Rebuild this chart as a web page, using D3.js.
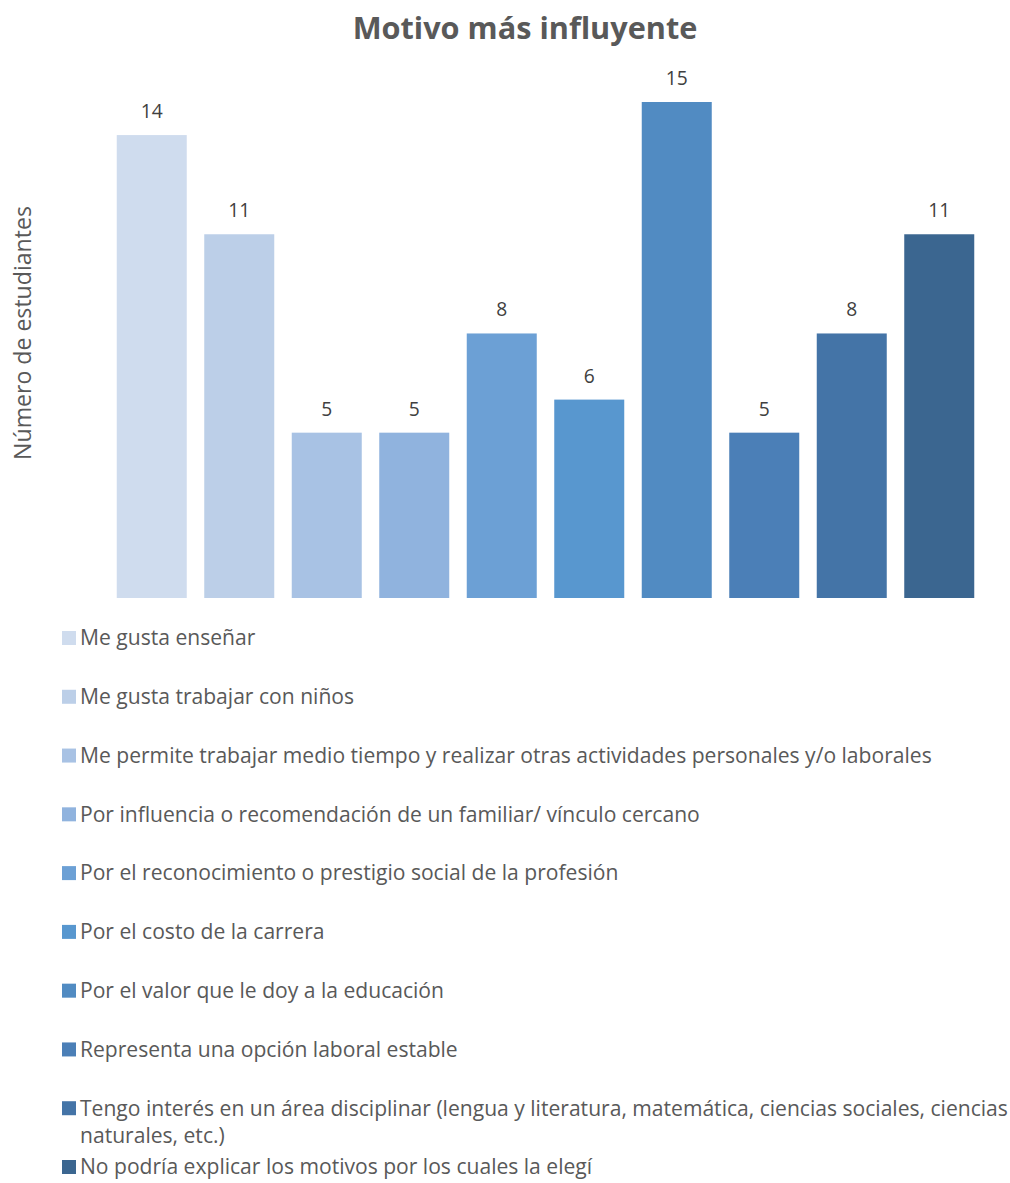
<!DOCTYPE html>
<html><head><meta charset="utf-8">
<script src="https://cdn.jsdelivr.net/npm/d3@7"></script>
<style>body{margin:0;background:#fff}svg{display:block}</style>
</head><body>
<svg id="c" width="1010" height="1183"></svg>
<script>
const categories = [
  "Me gusta enseñar",
  "Me gusta trabajar con niños",
  "Me permite trabajar medio tiempo y realizar otras actividades personales y/o laborales",
  "Por influencia o recomendación de un familiar/ vínculo cercano",
  "Por el reconocimiento o prestigio social de la profesión",
  "Por el costo de la carrera",
  "Por el valor que le doy a la educación",
  "Representa una opción laboral estable",
  "Tengo interés en un área disciplinar (lengua y literatura, matemática, ciencias sociales, ciencias naturales, etc.)",
  "No podría explicar los motivos por los cuales la elegí"
];
const values = [14, 11, 5, 5, 8, 6, 15, 5, 8, 11];
const colors = ["#cfdcee","#bccfe8","#a8c2e4","#90b3de","#6ca0d5","#5897cf","#518bc2","#4b7fb7","#4474a7","#3b6690"];
const title = "Motivo más influyente";
const yTitle = "Número de estudiantes";

const svg = d3.select("#c");
const font = "'Open Sans', sans-serif";
const grey = "#595959";

function fitSize(str, weight, target) {
  const t = svg.append("text").attr("font-family", font).attr("font-weight", weight).attr("font-size", 20).text(str);
  const w = t.node().getComputedTextLength();
  t.remove();
  return 20 * target / w;
}

const x = d3.scaleBand().domain(d3.range(categories.length)).range([108, 983]).paddingInner(0.2).paddingOuter(0.1);
const y = d3.scaleLinear().domain([0, 15]).range([598, 102]);

svg.append("text").attr("x", 525).attr("y", 39).attr("text-anchor", "middle")
  .attr("font-family", font).attr("font-weight", "bold").attr("font-size", fitSize(title, "bold", 345))
  .attr("fill", grey).text(title);

svg.append("text").attr("transform", "translate(31,333) rotate(-90)").attr("text-anchor", "middle")
  .attr("font-family", font).attr("font-size", fitSize(yTitle, "normal", 254)).attr("fill", grey).text(yTitle);

const lblSize = fitSize("14", "normal", 22);
svg.selectAll("rect.bar").data(values).join("rect").attr("class", "bar")
  .attr("x", (d, i) => x(i)).attr("width", x.bandwidth())
  .attr("y", d => y(d)).attr("height", d => y(0) - y(d))
  .attr("fill", (d, i) => colors[i]);

svg.selectAll("text.lbl").data(values).join("text").attr("class", "lbl")
  .attr("x", (d, i) => x(i) + x.bandwidth() / 2).attr("y", d => y(d) - 17)
  .attr("text-anchor", "middle").attr("font-family", font).attr("font-size", lblSize).attr("fill", "#404040")
  .text(d => d);

const legSize = fitSize(categories[2], "normal", 852);
const ly = d3.scaleLinear().domain([0, 9]).range([638, 1167]);
const lg = svg.append("g");
categories.forEach((c, i) => {
  const cy = ly(i);
  lg.append("rect").attr("x", 62).attr("y", cy - 7).attr("width", 14).attr("height", 14).attr("fill", colors[i]);
  const t = lg.append("text").attr("x", 80).attr("y", cy).attr("dy", "0.35em")
    .attr("font-family", font).attr("font-size", legSize).attr("fill", grey);
  const words = c.split(" ");
  let line = [];
  let ts = t.append("tspan").attr("x", 80);
  words.forEach(w => {
    line.push(w);
    ts.text(line.join(" "));
    if (80 + ts.node().getComputedTextLength() > 1010 && line.length > 1) {
      line.pop(); ts.text(line.join(" "));
      line = [w];
      ts = t.append("tspan").attr("x", 80).attr("dy", 27).text(w);
    }
  });
});
</script>
</body></html>
